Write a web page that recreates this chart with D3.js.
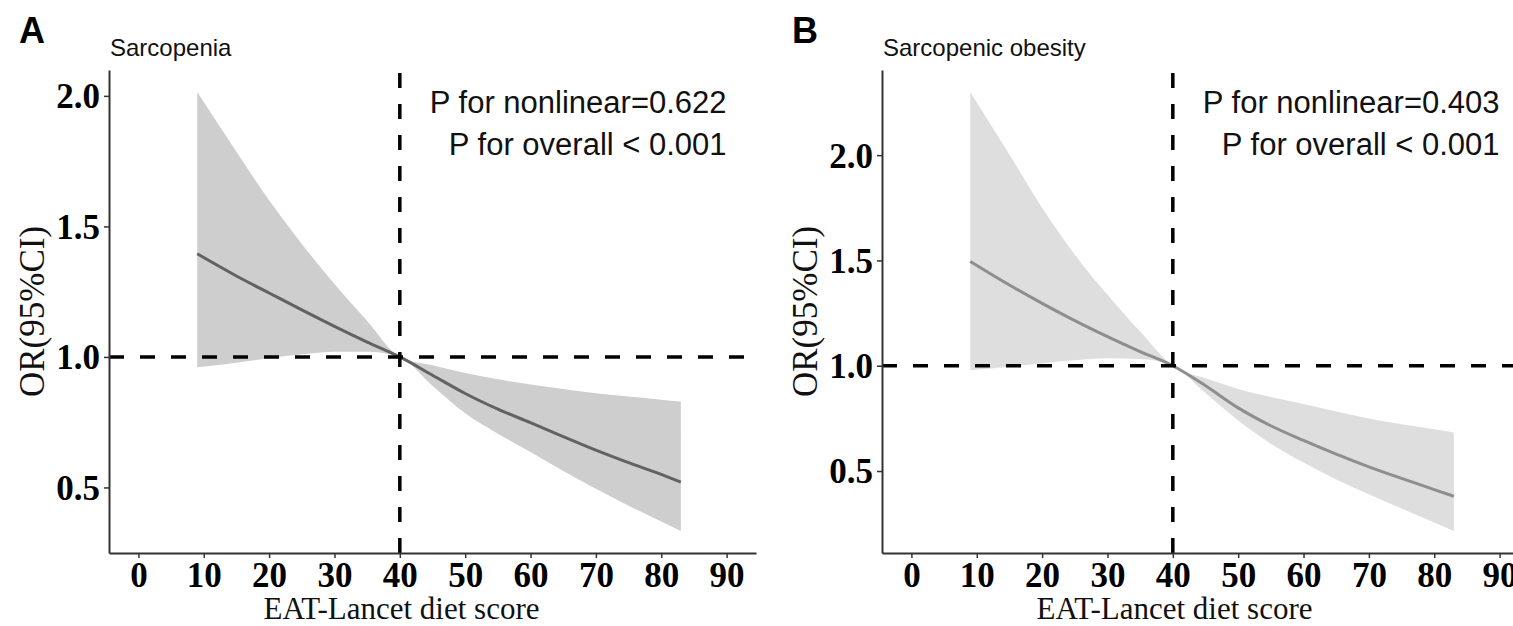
<!DOCTYPE html>
<html>
<head>
<meta charset="utf-8">
<script src="https://cdn.jsdelivr.net/npm/d3@7"></script>
<style>
  html, body { margin: 0; padding: 0; background: #fff; }
  svg { display: block; }
</style>
</head>
<body>
<svg id="chart" width="1513" height="626"></svg>
<script>
// EAT-Lancet diet score grid where the spline was evaluated
const score = [9, 15, 20, 25, 30, 35, 40, 45, 50, 55, 60, 65, 70, 75, 80, 83];

// Panel A: sarcopenia, odds ratio with 95% CI
const sarcOR    = [1.395, 1.31, 1.245, 1.18, 1.117, 1.057, 1.0, 0.93, 0.86, 0.80, 0.748, 0.695, 0.643, 0.595, 0.55, 0.52];
const sarcUpper = [2.015, 1.786, 1.60, 1.433, 1.279, 1.138, 1.0, 0.968, 0.938, 0.914, 0.894, 0.877, 0.861, 0.848, 0.836, 0.829];
const sarcLower = [0.96, 0.978, 0.995, 1.01, 1.02, 1.02, 1.0, 0.89, 0.784, 0.706, 0.636, 0.563, 0.495, 0.43, 0.37, 0.333];

// Panel B: sarcopenic obesity, odds ratio with 95% CI
const soOR    = [1.495, 1.383, 1.296, 1.214, 1.138, 1.067, 1.0, 0.905, 0.80, 0.715, 0.645, 0.58, 0.52, 0.465, 0.412, 0.38];
const soUpper = [2.30, 2.003, 1.75, 1.527, 1.337, 1.162, 1.0, 0.94, 0.89, 0.852, 0.818, 0.783, 0.75, 0.722, 0.698, 0.683];
const soLower = [0.978, 0.995, 1.012, 1.026, 1.035, 1.032, 1.0, 0.87, 0.74, 0.63, 0.54, 0.46, 0.39, 0.322, 0.255, 0.215];

const xTicks = [0, 10, 20, 30, 40, 50, 60, 70, 80, 90];
const yTicks = [0.5, 1.0, 1.5, 2.0];
const xLimits = [0, 90];
const refScore = 40;
const refOR = 1;

const panels = [
  { letter: "A", title: "Sarcopenia", fit: sarcOR, upper: sarcUpper, lower: sarcLower,
    pNonlinear: "P for nonlinear=0.622", pOverall: "P for overall < 0.001",
    left: 109, fill: "#cecece", stroke: "#626262" },
  { letter: "B", title: "Sarcopenic obesity", fit: soOR, upper: soUpper, lower: soLower,
    pNonlinear: "P for nonlinear=0.403", pOverall: "P for overall < 0.001",
    left: 882, fill: "#dedede", stroke: "#8e8e8e" }
];

const svg = d3.select("#chart");
const plotW = 647, plotTop = 70, plotBottom = 553;
const serif = "'Liberation Serif', 'Times New Roman', serif";
const sans = "'Liberation Sans', Arial, sans-serif";

panels.forEach(p => {
  // ggplot-like 5% expansion around the plotted limits
  const xPad = (xLimits[1] - xLimits[0]) * 0.05;
  const x = d3.scaleLinear()
    .domain([xLimits[0] - xPad, xLimits[1] + xPad])
    .range([p.left, p.left + plotW]);
  const yMin = d3.min(p.lower), yMax = d3.max(p.upper);
  const yPad = (yMax - yMin) * 0.05;
  const y = d3.scaleLinear()
    .domain([yMin - yPad, yMax + yPad])
    .range([plotBottom, plotTop]);

  const g = svg.append("g");
  const rows = score.map((s, i) => ({ s, fit: p.fit[i], lo: p.lower[i], hi: p.upper[i] }));

  // confidence band
  g.append("path")
    .datum(rows)
    .attr("fill", p.fill)
    .attr("d", d3.area()
      .x(d => x(d.s)).y0(d => y(d.lo)).y1(d => y(d.hi))
      .curve(d3.curveMonotoneX));

  // fitted odds ratio
  g.append("path")
    .datum(rows)
    .attr("fill", "none")
    .attr("stroke", p.stroke)
    .attr("stroke-width", 3)
    .attr("d", d3.line()
      .x(d => x(d.s)).y(d => y(d.fit))
      .curve(d3.curveMonotoneX));

  // reference lines
  g.append("line")
    .attr("x1", x.range()[0]).attr("x2", x.range()[1])
    .attr("y1", y(refOR)).attr("y2", y(refOR))
    .attr("stroke", "#000").attr("stroke-width", 3.5)
    .attr("stroke-dasharray", "15,16");
  g.append("line")
    .attr("x1", x(refScore)).attr("x2", x(refScore))
    .attr("y1", plotBottom).attr("y2", plotTop)
    .attr("stroke", "#000").attr("stroke-width", 3.5)
    .attr("stroke-dasharray", "15,16");

  // axes
  const xAxis = g.append("g")
    .attr("transform", `translate(0,${plotBottom})`)
    .call(d3.axisBottom(x).tickValues(xTicks).tickFormat(d3.format("d"))
      .tickSize(5).tickSizeOuter(0).tickPadding(4));
  const yAxis = g.append("g")
    .attr("transform", `translate(${p.left},0)`)
    .call(d3.axisLeft(y).tickValues(yTicks.filter(v => v >= y.domain()[0] && v <= y.domain()[1]))
      .tickFormat(d3.format(".1f")).tickSize(5).tickSizeOuter(0).tickPadding(4));
  [xAxis, yAxis].forEach(a => {
    a.select(".domain").attr("stroke", "#333").attr("stroke-width", 2);
    a.selectAll(".tick line").attr("stroke", "#333").attr("stroke-width", 1.5);
    a.selectAll(".tick text")
      .attr("fill", "#000")
      .style("font-family", serif)
      .style("font-weight", "bold")
      .style("font-size", "35px");
  });
  yAxis.selectAll(".tick text").attr("dy", "0.34em");

  // axis titles
  g.append("text")
    .attr("x", (x.range()[0] + x.range()[1]) / 2 - 31)
    .attr("y", 619)
    .attr("text-anchor", "middle")
    .style("font-family", serif).style("font-size", "31px")
    .attr("fill", "#111")
    .text("EAT-Lancet diet score");
  g.append("text")
    .attr("transform", `translate(${p.left - 65},${(plotTop + plotBottom) / 2}) rotate(-90)`)
    .attr("text-anchor", "middle")
    .style("font-family", serif).style("font-size", "35px")
    .attr("fill", "#111")
    .text("OR(95%CI)");

  // panel letter and title
  g.append("text")
    .attr("x", p.left - 90).attr("y", 43)
    .style("font-family", sans).style("font-weight", "bold").style("font-size", "36px")
    .attr("fill", "#000")
    .text(p.letter);
  g.append("text")
    .attr("x", p.left + 1).attr("y", 56)
    .style("font-family", sans).style("font-size", "24px")
    .attr("fill", "#111")
    .text(p.title);

  // test results
  g.append("text")
    .attr("x", x(xLimits[1])).attr("y", plotTop + 43)
    .attr("text-anchor", "end")
    .style("font-family", sans).style("font-size", "31px")
    .attr("fill", "#111")
    .text(p.pNonlinear);
  g.append("text")
    .attr("x", x(xLimits[1])).attr("y", plotTop + 85)
    .attr("text-anchor", "end")
    .style("font-family", sans).style("font-size", "31px")
    .attr("fill", "#111")
    .text(p.pOverall);
});
</script>
</body>
</html>
